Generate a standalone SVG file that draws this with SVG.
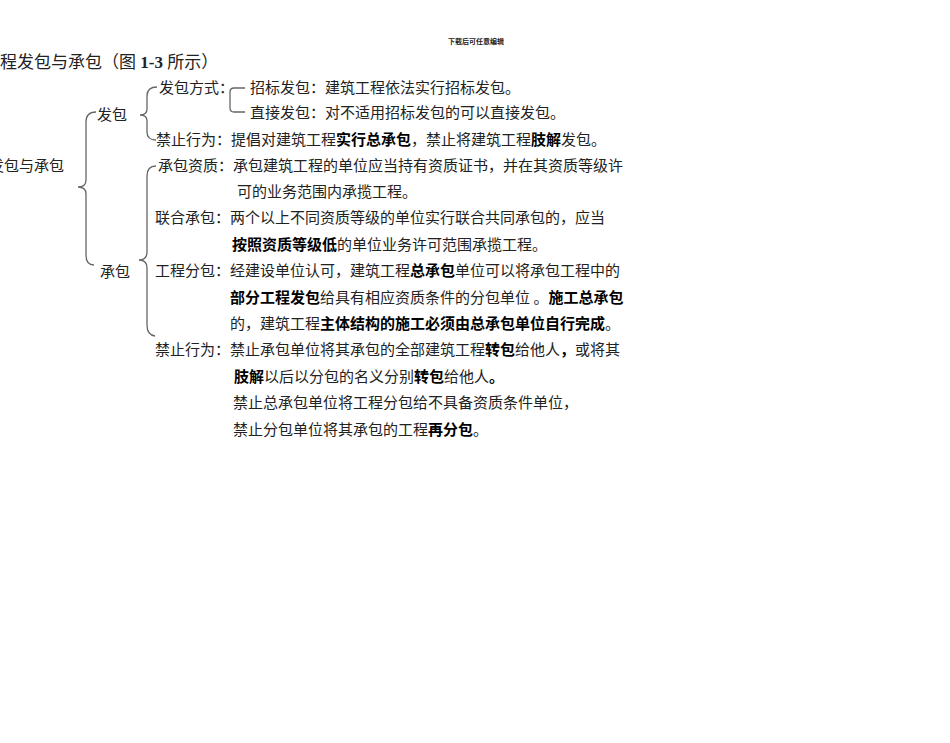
<svg xmlns="http://www.w3.org/2000/svg" width="950" height="743" viewBox="0 0 950 743">
<style>
.t{font-family:"Noto Sans CJK SC","Liberation Sans",sans-serif;font-size:15px;fill:#222}
.b{font-weight:bold;fill:#000}
.br{fill:none;stroke:#666;stroke-width:1.3}
</style>
<rect width="950" height="743" fill="#fff"/>
<text x="476" y="44" text-anchor="middle" style="font-family:'Noto Sans CJK SC',sans-serif;font-size:7px;font-weight:bold;fill:#222">下载后可任意编辑</text>
<text x="0" y="68" style="font-family:'Liberation Serif','Noto Sans CJK SC',serif;font-size:17px;fill:#222">程发包与承包（图 <tspan font-weight="bold">1-3</tspan> 所示）</text>
<g id="root"><text class="t" x="-11" y="171">发包与承包</text></g>
<g id="fabao"><text class="t" x="97" y="120">发包</text></g>
<g id="chengbao"><text class="t" x="100" y="277">承包</text></g>
<g id="fabao-fangshi"><text class="t" x="159" y="93">发包方式：</text></g>
<g id="zhaobiao"><text class="t" x="250" y="93">招标发包：建筑工程依法实行招标发包。</text></g>
<g id="zhijie"><text class="t" x="250" y="118">直接发包：对不适用招标发包的可以直接发包。</text></g>
<g id="fabao-jinzhi"><text class="t" x="156" y="145">禁止行为：提倡对建筑工程<tspan class="b">实行总承包</tspan>，禁止将建筑工程<tspan class="b">肢解</tspan>发包。</text></g>
<g id="zizhi">
<text class="t" x="158" y="171">承包资质：承包建筑工程的单位应当持有资质证书，并在其资质等级许</text>
<text class="t" x="237" y="197">可的业务范围内承揽工程。</text>
</g>
<g id="lianhe">
<text class="t" x="155" y="223">联合承包：两个以上不同资质等级的单位实行联合共同承包的，应当</text>
<text class="t" x="232" y="250"><tspan class="b">按照资质等级低</tspan>的单位业务许可范围承揽工程。</text>
</g>
<g id="fenbao">
<text class="t" x="155" y="276">工程分包：经建设单位认可，建筑工程<tspan class="b">总承包</tspan>单位可以将承包工程中的</text>
<text class="t" x="230" y="303"><tspan class="b">部分工程发包</tspan>给具有相应资质条件的分包单位 。<tspan class="b">施工总承包</tspan></text>
<text class="t" x="230" y="329">的，建筑工程<tspan class="b">主体结构的施工必须由总承包单位自行完成</tspan>。</text>
</g>
<g id="chengbao-jinzhi">
<text class="t" x="155" y="355">禁止行为：禁止承包单位将其承包的全部建筑工程<tspan class="b">转包</tspan>给他人<tspan class="b">，</tspan>或将其</text>
<text class="t" x="234" y="382"><tspan class="b">肢解</tspan>以后以分包的名义分别<tspan class="b">转包</tspan>给他人<tspan class="b">。</tspan></text>
<text class="t" x="233" y="408">禁止总承包单位将工程分包给不具备资质条件单位，</text>
<text class="t" x="233" y="435">禁止分包单位将其承包的工程<tspan class="b">再分包</tspan>。</text>
</g>
<g id="connectors">
<path class="br" d="M96,112 Q86,112 86,122 L86,180 Q86,187 78,187 Q86,187 86,194 L86,255 Q86,265 94,265"/>
<path class="br" d="M157,87 Q147,87 147,96 L147,109 Q147,115 140,115 Q147,115 147,121 L147,132 Q147,140 156,140"/>
<path class="br" d="M156,166 Q147,166 147,176 L147,252 Q147,260 139,260 Q147,260 147,268 L147,325 Q147,335 155,336"/>
<path class="br" d="M245,88 L234,88 Q230,88 230,92 L230,108 Q230,112 234,112 L245,112"/>
</g>
</svg>
